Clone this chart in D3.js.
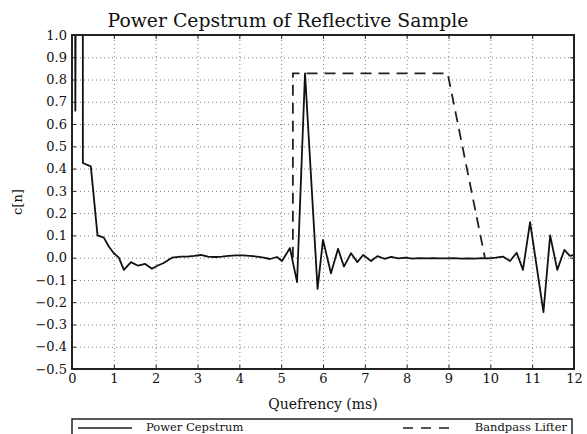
<!DOCTYPE html>
<html>
<head>
<meta charset="utf-8">
<script src="https://cdn.jsdelivr.net/npm/d3@7"></script>
<style>
body { margin: 0; background: #fff; }
svg { font-family: "DejaVu Serif", serif; }
</style>
</head>
<body>
<div id="chart"></div>
<script>
// quefrency (ms) and cepstrum values
var quefrency = [0.00, 0.08, 0.24, 0.26, 0.45, 0.61, 0.76, 0.88, 1.00, 1.12, 1.24, 1.41, 1.58, 1.75, 1.91, 2.05, 2.18, 2.39,
    2.60, 2.75, 2.92, 3.08, 3.25, 3.42, 3.58, 3.75, 3.92, 4.08, 4.25, 4.42, 4.58, 4.73, 4.90, 5.02, 5.21, 5.38,
    5.57, 5.87, 6.00, 6.19, 6.36, 6.50, 6.67, 6.82, 6.96, 7.15, 7.30, 7.47, 7.63, 7.80, 7.97, 8.13, 8.30, 8.47,
    8.63, 8.80, 8.97, 9.13, 9.30, 9.47, 9.63, 9.80, 9.97, 10.13, 10.30, 10.47, 10.63, 10.78, 10.95, 11.27, 11.43,
    11.60, 11.77, 11.90, 12.00];
var cepstrum = [9.0, 0.66, 9.0, 0.425, 0.41, 0.10, 0.09, 0.05, 0.02, 0.0, -0.055, -0.02, -0.036, -0.028, -0.05, -0.035, -0.025, 0.0,
    0.005, 0.005, 0.008, 0.012, 0.005, 0.003, 0.005, 0.008, 0.01, 0.01, 0.008, 0.005, 0.0, -0.006, 0.003, -0.015, 0.043, -0.11,
    0.828, -0.14, 0.08, -0.07, 0.04, -0.04, 0.02, -0.02, 0.012, -0.015, 0.007, -0.005, 0.004, -0.003, 0.0, -0.004, -0.002, -0.003,
    -0.002, -0.003, -0.003, -0.002, -0.004, -0.003, -0.004, -0.002, -0.003, 0.0, 0.005, -0.015, 0.022, -0.055, 0.16, -0.245, 0.10,
    -0.055, 0.035, 0.008, 0.012];

// bandpass lifter outline
var lifterX = [5.28, 5.28, 8.98, 9.87];
var lifterY = [0.0, 0.828, 0.828, 0.0];

var xTicks = [0, 1, 2, 3, 4, 5, 6, 7, 8, 9, 10, 11, 12];
var yTicks = [1.0, 0.9, 0.8, 0.7, 0.6, 0.5, 0.4, 0.3, 0.2, 0.1, 0.0, -0.1, -0.2, -0.3, -0.4, -0.5];
var yTickLabels = ['1.0', '0.9', '0.8', '0.7', '0.6', '0.5', '0.4', '0.3', '0.2', '0.1', '0.0',
    '\u22120.1', '\u22120.2', '\u22120.3', '\u22120.4', '\u22120.5'];
var legendLabels = ['Power Cepstrum', 'Bandpass Lifter'];

var margin = {top: 35, bottom: 65, left: 72, right: 13};
var width = 587 - margin.left - margin.right,
    height = 434 - margin.top - margin.bottom;

var svg = d3.select('#chart').append('svg')
    .attr('width', 587)
    .attr('height', 434);

var g = svg.append('g')
    .attr('transform', 'translate(' + margin.left + ',' + margin.top + ')');

var x = d3.scaleLinear().domain([0, 12]).range([0, width]);
var y = d3.scaleLinear().domain([-0.5, 1.0]).range([height, 0]);

// dotted grid
g.append('g')
    .attr('class', 'grid')
    .attr('transform', 'translate(0,' + height + ')')
    .call(d3.axisBottom(x).tickValues(xTicks).tickSize(-height).tickFormat(''));
g.append('g')
    .attr('class', 'grid')
    .call(d3.axisLeft(y).tickValues(yTicks).tickSize(-width).tickFormat(''));
g.selectAll('.grid .domain').remove();
g.selectAll('.grid line')
    .attr('stroke', '#808080')
    .attr('stroke-width', 1)
    .attr('stroke-dasharray', '1,3');

svg.append('clipPath').attr('id', 'clip')
    .append('rect').attr('width', width).attr('height', height);

var line = d3.line()
    .x(function (d) { return x(d[0]); })
    .y(function (d) { return y(d[1]); });

var plot = g.append('g').attr('clip-path', 'url(#clip)');

plot.append('path')
    .datum(lifterX.map(function (v, i) { return [v, lifterY[i]]; }))
    .attr('d', line)
    .attr('fill', 'none')
    .attr('stroke', '#222')
    .attr('stroke-width', 1.8)
    .attr('stroke-dasharray', '11,7');

plot.append('path')
    .datum(quefrency.map(function (v, i) { return [v, cepstrum[i]]; }))
    .attr('d', line)
    .attr('fill', 'none')
    .attr('stroke', '#111')
    .attr('stroke-width', 1.8)
    .attr('stroke-linejoin', 'round');

// axes with inward ticks on all four sides
var xAxisCall = d3.axisBottom(x).tickValues(xTicks).tickSize(-4).tickPadding(5);
var xAxis = g.append('g')
    .attr('class', 'x-axis')
    .attr('transform', 'translate(0,' + height + ')')
    .call(xAxisCall);

var yAxisCall = d3.axisLeft(y).tickValues(yTicks).tickSize(-4).tickPadding(5)
    .tickFormat(function (d, i) { return yTickLabels[i]; });
var yAxis = g.append('g')
    .attr('class', 'y-axis')
    .call(yAxisCall);

g.append('g')
    .attr('class', 'x-top')
    .call(d3.axisTop(x).tickValues(xTicks).tickSize(-4).tickFormat(''));
g.append('g')
    .attr('class', 'y-right')
    .attr('transform', 'translate(' + width + ',0)')
    .call(d3.axisRight(y).tickValues(yTicks).tickSize(-4).tickFormat(''));

g.selectAll('.x-axis .domain, .y-axis .domain, .x-top .domain, .y-right .domain').remove();
g.selectAll('.x-axis line, .y-axis line, .x-top line, .y-right line')
    .attr('stroke', '#222').attr('stroke-width', 1);
g.selectAll('.x-axis text, .y-axis text')
    .attr('font-family', 'DejaVu Serif')
    .attr('font-size', '13px')
    .attr('fill', '#111');

g.append('rect')
    .attr('width', width)
    .attr('height', height)
    .attr('fill', 'none')
    .attr('stroke', '#222')
    .attr('stroke-width', 2);

svg.append('text')
    .attr('x', 288)
    .attr('y', 27)
    .attr('text-anchor', 'middle')
    .attr('font-size', '18.8px')
    .attr('fill', '#111')
    .text('Power Cepstrum of Reflective Sample');

g.append('text')
    .attr('x', width / 2)
    .attr('y', height + 40)
    .attr('text-anchor', 'middle')
    .attr('font-size', '14px')
    .attr('fill', '#111')
    .text('Quefrency (ms)');

g.append('text')
    .attr('x', -(height / 2))
    .attr('y', -50)
    .attr('text-anchor', 'middle')
    .attr('transform', 'rotate(-90)')
    .attr('font-size', '13px')
    .attr('fill', '#111')
    .text('c[n]');

// legend (box runs off the bottom edge, as in the original)
var legend = svg.append('g').attr('class', 'legend');
legend.append('rect')
    .attr('x', 72).attr('y', 419)
    .attr('width', 500).attr('height', 40)
    .attr('fill', '#fff')
    .attr('stroke', '#222')
    .attr('stroke-width', 1.5);
legend.append('line')
    .attr('x1', 78).attr('x2', 132).attr('y1', 428).attr('y2', 428)
    .attr('stroke', '#555').attr('stroke-width', 1.8);
legend.append('text')
    .attr('x', 146).attr('y', 430.5)
    .attr('font-size', '11.5px').attr('fill', '#111')
    .text(legendLabels[0]);
legend.append('line')
    .attr('x1', 403).attr('x2', 449).attr('y1', 428).attr('y2', 428)
    .attr('stroke', '#555').attr('stroke-width', 1.8)
    .attr('stroke-dasharray', '10,8');
legend.append('text')
    .attr('x', 567).attr('y', 430.5)
    .attr('text-anchor', 'end')
    .attr('font-size', '11.5px').attr('fill', '#111')
    .text(legendLabels[1]);
</script>
</body>
</html>
